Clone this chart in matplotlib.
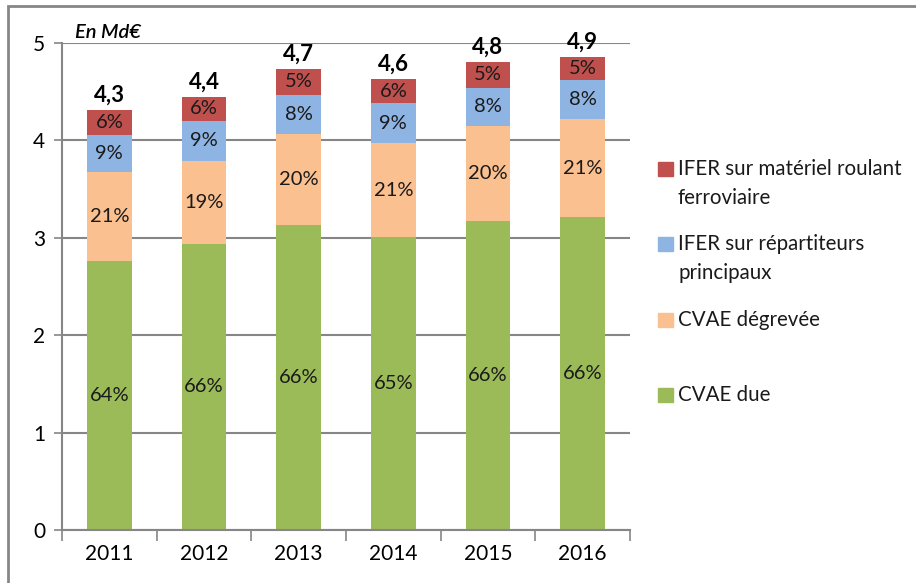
import matplotlib.pyplot as plt
from matplotlib.patches import Rectangle
import numpy as np

plt.rcParams['font.family'] = ['Lato', 'DejaVu Sans']

# Data (Md€)
years = ['2011', '2012', '2013', '2014', '2015', '2016']
cvae_due = [2.76, 2.94, 3.13, 3.01, 3.17, 3.21]
cvae_degrevee = [0.92, 0.85, 0.94, 0.96, 0.98, 1.01]
ifer_repartiteurs = [0.38, 0.41, 0.40, 0.41, 0.39, 0.40]
ifer_ferroviaire = [0.25, 0.25, 0.26, 0.25, 0.27, 0.24]

pct_due = ['64%', '66%', '66%', '65%', '66%', '66%']
pct_degrevee = ['21%', '19%', '20%', '21%', '20%', '21%']
pct_repartiteurs = ['9%', '9%', '8%', '9%', '8%', '8%']
pct_ferroviaire = ['6%', '6%', '5%', '6%', '5%', '5%']
totals = ['4,3', '4,4', '4,7', '4,6', '4,8', '4,9']

series = [
    (cvae_due, pct_due, '#9BBB59', 'CVAE due'),
    (cvae_degrevee, pct_degrevee, '#FAC090', 'CVAE dégrevée'),
    (ifer_repartiteurs, pct_repartiteurs, '#8EB4E3', 'IFER sur répartiteurs\nprincipaux'),
    (ifer_ferroviaire, pct_ferroviaire, '#C0504D', 'IFER sur matériel roulant\nferroviaire'),
]

grey = '#868686'
W, H = 916, 583
fig = plt.figure(figsize=(W / 100, H / 100), dpi=100)
ax = fig.add_axes([62 / W, 1 - 530 / H, (630 - 62) / W, (530 - 43) / H])

x = np.arange(len(years))
bottom = np.zeros(len(years))
for vals, pcts, color, name in series:
    bars = ax.bar(x, vals, 0.475, bottom=bottom, color=color, linewidth=0, zorder=2)
    for b, p in zip(bars, pcts):
        ax.text(b.get_x() + b.get_width() / 2, b.get_y() + b.get_height() / 2, p,
                ha='center', va='center', fontsize=14.5, color='#1a1a1a', zorder=3)
    bottom += np.array(vals)

for xi, top, t in zip(x, bottom, totals):
    ax.annotate(t, (xi, top), xytext=(0, 3), textcoords='offset points',
                ha='center', va='bottom', fontsize=16, fontweight='bold')

ax.set_xlim(-0.5, len(years) - 0.5)
ax.set_ylim(0, 5)
ax.set_yticks([0, 1, 2, 3, 4, 5])
ax.yaxis.grid(True, color=grey, linewidth=1.5, zorder=0)
ax.set_axisbelow(True)

ax.set_xticks(x)
ax.set_xticklabels(years, fontsize=15)
ax.set_xticks(np.arange(-0.5, len(years)), minor=True)
ax.tick_params(axis='x', which='major', length=0, pad=10)
ax.tick_params(axis='x', which='minor', length=8, color=grey, width=1.2)
ax.tick_params(axis='y', length=6, color=grey, width=1.2, labelsize=15, pad=6)

for s in ['top', 'right']:
    ax.spines[s].set_visible(False)
for s in ['left', 'bottom']:
    ax.spines[s].set_color(grey)
    ax.spines[s].set_linewidth(1.5)

fig.text(75 / W, 1 - 33 / H, 'En Md€', fontsize=14.5, style='italic',
         fontweight='semibold', va='center', ha='left')

# Legend (top to bottom: red, blue, orange, green)
for i, (vals, pcts, color, name) in enumerate(reversed(series)):
    yc = 169 + i * 75.3
    fig.patches.append(Rectangle((658 / W, 1 - (yc + 7) / H), 15 / W, 14 / H,
                                 transform=fig.transFigure, color=color))
    for j, line in enumerate(name.split('\n')):
        fig.text(678 / W, 1 - (yc + j * 29) / H, line, fontsize=14.8,
                 va='center', ha='left', color='#1a1a1a')

# Chart frame
fig.patches.append(Rectangle((8 / W, -0.1), 1.2, 1 - 6 / H + 0.1,
                             transform=fig.transFigure, fill=False,
                             edgecolor=grey, linewidth=2))

fig.savefig('out.png', dpi=100)
